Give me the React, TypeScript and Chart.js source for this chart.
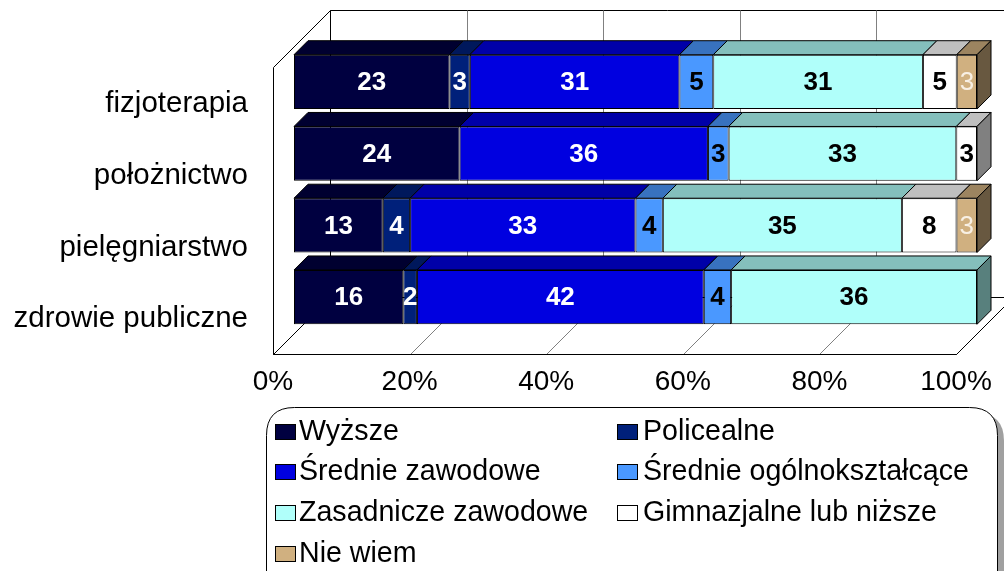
import React, { useEffect, useRef } from "react";
import { Chart, registerables } from "chart.js";

Chart.register(...registerables);

// ---------- data ----------
const categories = ["fizjoterapia", "położnictwo", "pielęgniarstwo", "zdrowie publiczne"];
const seriesNames = [
  "Wyższe",
  "Policealne",
  "Średnie zawodowe",
  "Średnie ogólnokształcące",
  "Zasadnicze zawodowe",
  "Gimnazjalne lub niższe",
  "Nie wiem",
];
const wyzsze = [23, 24, 13, 16];
const policealne = [3, 0, 4, 2];
const srednieZawodowe = [31, 36, 33, 42];
const srednieOgolne = [5, 3, 4, 4];
const zasadnicze = [31, 33, 35, 36];
const gimnazjalne = [5, 3, 8, 0];
const nieWiem = [3, 0, 3, 0];
const xTickValues = [0, 20, 40, 60, 80, 100];

const seriesValues = [wyzsze, policealne, srednieZawodowe, srednieOgolne, zasadnicze, gimnazjalne, nieWiem];

// ---------- style ----------
const frontColors = ["#000040", "#00207a", "#0000e0", "#4a98ff", "#b0fffa", "#ffffff", "#d0b080"];
const labelColors = ["#ffffff", "#ffffff", "#ffffff", "#000000", "#000000", "#000000", "#f8f0e4"];
const labelWeights = ["bold", "bold", "bold", "bold", "bold", "bold", "normal"];
const FONT = "'Liberation Sans', Arial, sans-serif";
const FRONT = 21; // offset of box front from bar plane
const BACK = 36; // offset of back wall from bar plane
const DEPTH = 14; // bar depth

const totals = categories.map((_, j) => seriesValues.reduce((s, arr) => s + arr[j], 0));
const percents = seriesValues.map((arr) => arr.map((v, j) => (v / totals[j]) * 100));

function shade(hex: string, f: number) {
  const n = parseInt(hex.slice(1), 16);
  const r = Math.round(((n >> 16) & 255) * f);
  const g = Math.round(((n >> 8) & 255) * f);
  const b = Math.round((n & 255) * f);
  return `rgb(${r},${g},${b})`;
}

function poly(ctx: CanvasRenderingContext2D, pts: number[][], fill: string | null, stroke: string | null) {
  ctx.beginPath();
  pts.forEach((p, i) => (i === 0 ? ctx.moveTo(p[0], p[1]) : ctx.lineTo(p[0], p[1])));
  ctx.closePath();
  if (fill) {
    ctx.fillStyle = fill;
    ctx.fill();
  }
  if (stroke) {
    ctx.strokeStyle = stroke;
    ctx.stroke();
  }
}

function roundRectPath(ctx: CanvasRenderingContext2D, x: number, y: number, w: number, h: number, r: number) {
  ctx.beginPath();
  ctx.moveTo(x + r, y);
  ctx.lineTo(x + w - r, y);
  ctx.quadraticCurveTo(x + w, y, x + w, y + r);
  ctx.lineTo(x + w, y + h - r);
  ctx.quadraticCurveTo(x + w, y + h, x + w - r, y + h);
  ctx.lineTo(x + r, y + h);
  ctx.quadraticCurveTo(x, y + h, x, y + h - r);
  ctx.lineTo(x, y + r);
  ctx.quadraticCurveTo(x, y, x + r, y);
  ctx.closePath();
}

const h = (v: number) => Math.round(v) + 0.5;

const threeD = {
  id: "threeD",
  beforeDatasetsDraw(chart: any) {
    const { ctx, chartArea: ca } = chart;
    const xs = chart.scales.x;
    ctx.save();
    ctx.lineWidth = 1;
    const bl = h(ca.left + BACK), bt = h(ca.top - BACK), br = h(ca.right + BACK), bb = h(ca.bottom - BACK);
    const fl = h(ca.left - FRONT), ft = h(ca.top + FRONT), fr = h(ca.right - FRONT), fb = h(ca.bottom + FRONT);
    // back wall
    poly(ctx, [[bl, bt], [br, bt], [br, bb], [bl, bb]], "#ffffff", "#000000");
    // left wall
    poly(ctx, [[fl, ft], [bl, bt], [bl, bb], [fl, fb]], "#ffffff", "#000000");
    // floor
    poly(ctx, [[fl, fb], [fr, fb], [br, bb], [bl, bb]], "#ffffff", "#000000");
    // gridlines
    ctx.strokeStyle = "#808080";
    xTickValues.forEach((v) => {
      if (v === 0 || v === 100) return;
      const px = xs.getPixelForValue(v);
      ctx.beginPath();
      ctx.moveTo(h(px + BACK), bt);
      ctx.lineTo(h(px + BACK), bb);
      ctx.moveTo(h(px - FRONT), fb);
      ctx.lineTo(h(px + BACK), bb);
      ctx.stroke();
    });
    // redraw floor edges in black
    ctx.strokeStyle = "#000000";
    ctx.beginPath();
    ctx.moveTo(fl, fb);
    ctx.lineTo(fr, fb);
    ctx.lineTo(br, bb);
    ctx.stroke();
    ctx.restore();
  },
  afterDatasetsDraw(chart: any) {
    const { ctx } = chart;
    const n = chart.data.datasets.length;
    ctx.save();
    ctx.lineWidth = 1;
    categories.forEach((_, j) => {
      let last: any = null;
      for (let i = 0; i < n; i++) {
        const el = chart.getDatasetMeta(i).data[j];
        const { x, y, base, height } = el.getProps(["x", "y", "base", "height"], true);
        const l = Math.min(x, base), r = Math.max(x, base);
        if (r - l < 0.5) continue;
        const t = y - height / 2;
        poly(ctx, [[l, t], [r, t], [r + DEPTH, t - DEPTH], [l + DEPTH, t - DEPTH]], shade(frontColors[i], 0.75), "#000000");
        last = { i, r, t, b: y + height / 2 };
      }
      if (last) {
        poly(
          ctx,
          [[last.r, last.t], [last.r + DEPTH, last.t - DEPTH], [last.r + DEPTH, last.b - DEPTH], [last.r, last.b]],
          shade(frontColors[last.i], 0.5),
          "#000000"
        );
      }
    });
    // data labels
    ctx.textAlign = "center";
    ctx.textBaseline = "middle";
    for (let i = 0; i < n; i++) {
      const meta = chart.getDatasetMeta(i);
      categories.forEach((_, j) => {
        const v = seriesValues[i][j];
        if (!v) return;
        const el = meta.data[j];
        const { x, y, base } = el.getProps(["x", "y", "base"], true);
        ctx.font = `${labelWeights[i]} 26px ${FONT}`;
        ctx.fillStyle = labelColors[i];
        ctx.fillText(String(v), (x + base) / 2, y + 1);
      });
    }
    ctx.restore();
  },
  afterDraw(chart: any) {
    const { ctx } = chart;
    ctx.save();
    // legend box with shadow
    roundRectPath(ctx, 272, 413, 732, 200, 28);
    ctx.fillStyle = "#a0a0a0";
    ctx.fill();
    roundRectPath(ctx, 266.5, 407.5, 731, 200, 28);
    ctx.fillStyle = "#ffffff";
    ctx.fill();
    ctx.strokeStyle = "#000000";
    ctx.lineWidth = 1;
    ctx.stroke();
    const colX = [275, 617];
    const textX = [299, 643];
    const rowY = [431, 471.5, 512.5, 553];
    ctx.font = `28.6px ${FONT}`;
    ctx.textAlign = "left";
    ctx.textBaseline = "middle";
    chart.data.datasets.forEach((ds: any, k: number) => {
      const c = k % 2;
      const r = Math.floor(k / 2);
      const y = rowY[r];
      ctx.fillStyle = ds.backgroundColor;
      ctx.fillRect(colX[c] + 0.5, Math.round(y - 7.5) + 0.5, 20, 15);
      ctx.strokeStyle = "#000000";
      ctx.strokeRect(colX[c] + 0.5, Math.round(y - 7.5) + 0.5, 20, 15);
      ctx.fillStyle = "#000000";
      ctx.fillText(ds.label, textX[c], y + 1);
    });
    ctx.restore();
  },
};

export default function App() {
  const canvasRef = useRef<HTMLCanvasElement | null>(null);

  useEffect(() => {
    if (!canvasRef.current) return;
    const chart = new Chart(canvasRef.current, {
      type: "bar",
      data: {
        labels: categories,
        datasets: seriesNames.map((name, i) => ({
          label: name,
          data: percents[i],
          backgroundColor: frontColors[i],
          borderColor: "#000000",
          borderWidth: 1,
          borderSkipped: false,
          barPercentage: 0.757,
          categoryPercentage: 1,
        })),
      },
      options: {
        indexAxis: "y",
        responsive: false,
        animation: false,
        devicePixelRatio: 1,
        layout: { padding: { top: 46, right: 27, bottom: 178, left: 0 } },
        scales: {
          x: {
            stacked: true,
            min: 0,
            max: 100,
            ticks: {
              stepSize: 20,
              callback: (v: any) => `${v}%`,
              labelOffset: -FRONT,
              padding: 32,
              maxRotation: 0,
              autoSkip: false,
              color: "#000000",
              font: { family: FONT, size: 28 },
            },
            grid: { display: false, drawTicks: false },
            border: { display: false },
            afterFit: (s: any) => {
              s.height = 60;
              s.paddingLeft = 0;
              s.paddingRight = 0;
            },
          },
          y: {
            stacked: true,
            ticks: {
              labelOffset: 22,
              padding: 46,
              color: "#000000",
              font: { family: FONT, size: 29.5 },
            },
            grid: { display: false, drawTicks: false },
            border: { display: false },
            afterFit: (s: any) => {
              s.width = 294;
              s.paddingTop = 0;
              s.paddingBottom = 0;
            },
          },
        },
        plugins: {
          legend: { display: false },
          tooltip: { enabled: false },
        },
      },
      plugins: [threeD],
    } as any);
    return () => chart.destroy();
  }, []);

  return (
    <div style={{ position: "fixed", left: 0, top: 0, width: 1004, height: 571, background: "#ffffff" }}>
      <canvas ref={canvasRef} width={1004} height={571} style={{ width: 1004, height: 571, display: "block" }} />
    </div>
  );
}
